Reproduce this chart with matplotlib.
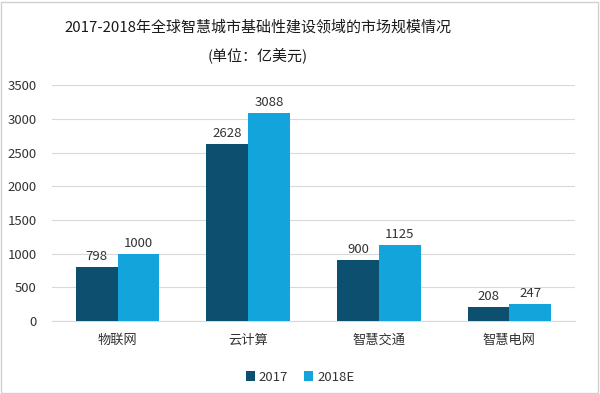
import numpy as np
import matplotlib
matplotlib.use("Agg")
import matplotlib.pyplot as plt
from matplotlib.patches import Rectangle

plt.rcParams['font.family'] = ['Noto Sans CJK SC', 'DejaVu Sans']

categories = ['物联网', '云计算', '智慧交通', '智慧电网']
series_names = ['2017', '2018E']
values_2017 = [798, 2628, 900, 208]
values_2018 = [1000, 3088, 1125, 247]
colors = ['#0c4f6e', '#12a4da']

fig = plt.figure(figsize=(6.0, 3.94), dpi=100)
ax = fig.add_axes([0.087, 0.185, 0.871, 0.599])

x = np.arange(len(categories))
w = 0.32
b1 = ax.bar(x - w / 2, values_2017, w, color=colors[0], label=series_names[0], zorder=3)
b2 = ax.bar(x + w / 2, values_2018, w, color=colors[1], label=series_names[1], zorder=3)

for bars in (b1, b2):
    for r in bars:
        ax.text(r.get_x() + r.get_width() / 2, r.get_height() + 60, f'{int(r.get_height())}',
                ha='center', va='bottom', fontsize=9.5, color='#333333')

ax.set_xlim(-0.5, len(categories) - 0.5)
ax.set_ylim(0, 3500)
ax.set_yticks(np.arange(0, 3501, 500))
ax.set_xticks(x)
ax.set_xticklabels(categories)
ax.grid(axis='y', color='#d9d9d9', linewidth=0.8, zorder=0)
for s in ['top', 'right', 'left']:
    ax.spines[s].set_visible(False)
ax.spines['bottom'].set_color('#d9d9d9')
ax.tick_params(axis='both', length=0, labelsize=9.5, colors='#333333', pad=9)
ax.tick_params(axis='y', pad=11)

fig.text(0.43, 0.93, '2017-2018年全球智慧城市基础性建设领域的市场规模情况',
         ha='center', va='center', fontsize=10.8, color='#1a1a1a')
fig.text(0.43, 0.86, '(单位：亿美元)', ha='center', va='center', fontsize=10.8, color='#1a1a1a')

fig.legend(loc='center', bbox_to_anchor=(0.5, 0.043), ncol=2, frameon=False,
           fontsize=9.5, handlelength=0.7, handleheight=0.7, handletextpad=0.3,
           columnspacing=1.2, labelcolor='#333333')

fig.patches.append(Rectangle((0.002, 0.003), 0.995, 0.993, transform=fig.transFigure,
                             fill=False, edgecolor='#d0d0d0', linewidth=1))

fig.savefig('out.png', dpi=100)
